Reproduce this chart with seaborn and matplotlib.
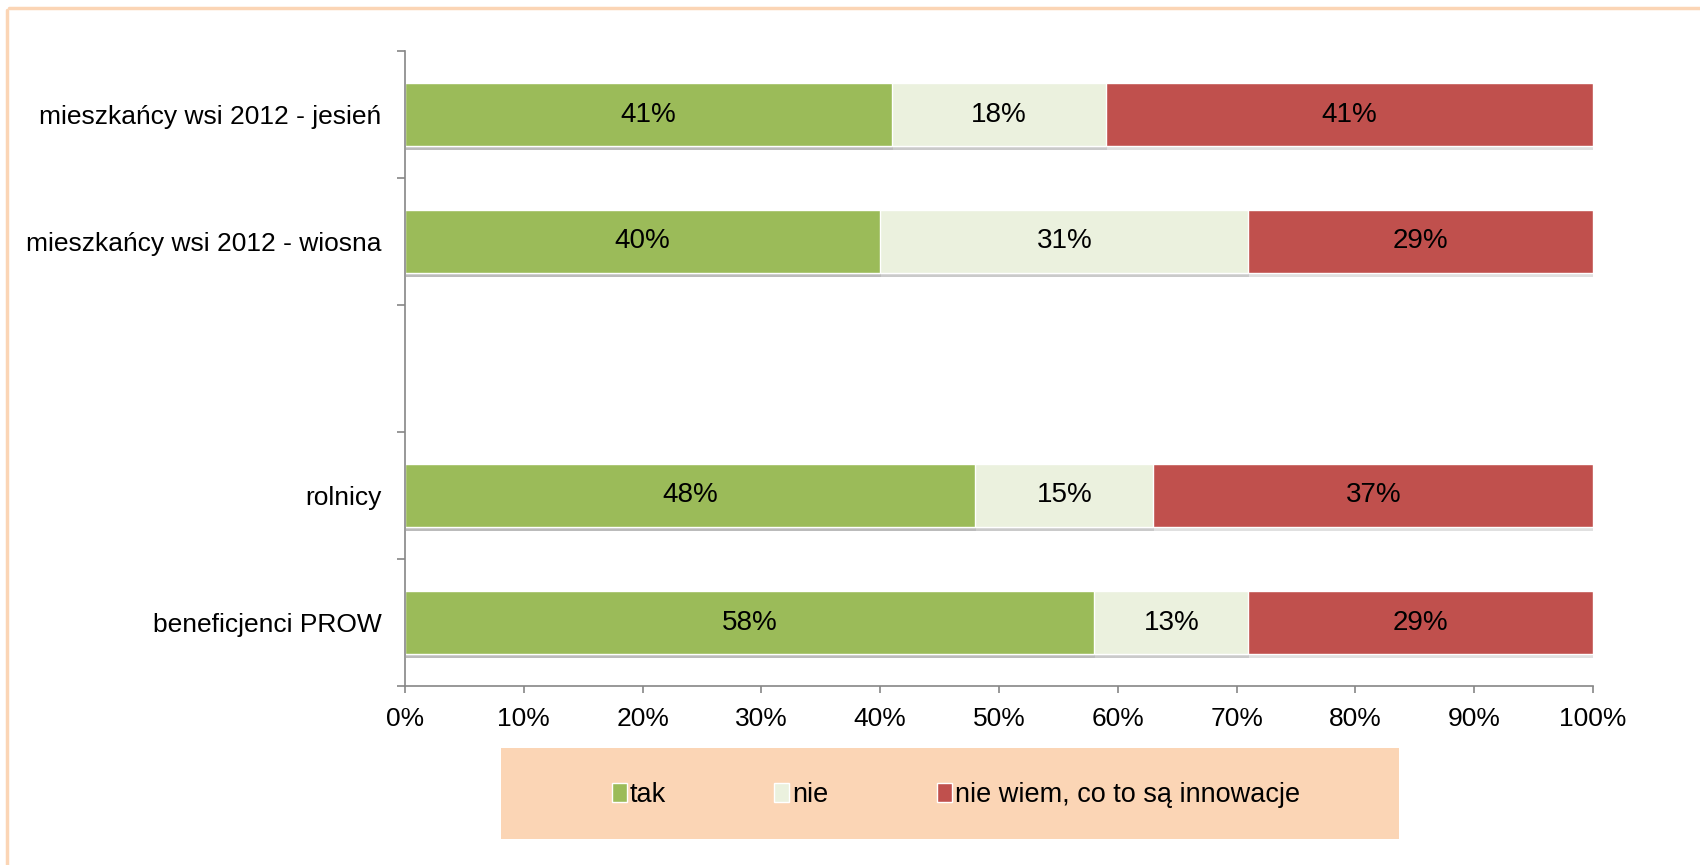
import matplotlib
matplotlib.use("Agg")
import matplotlib.pyplot as plt
import matplotlib.patheffects as pe
from matplotlib.patches import Patch, Rectangle
from matplotlib.lines import Line2D
from matplotlib.ticker import FixedLocator, PercentFormatter
import seaborn as sns
import pandas as pd
import numpy as np

# ---- data ----
categories = ["mieszkańcy wsi 2012 - jesień", "mieszkańcy wsi 2012 - wiosna", "",
              "rolnicy", "beneficjenci PROW"]
data_categories = ["mieszkańcy wsi 2012 - jesień", "mieszkańcy wsi 2012 - wiosna",
                   "rolnicy", "beneficjenci PROW"]
tak = [41, 40, 48, 58]
nie = [18, 31, 15, 13]
nie_wiem = [41, 29, 37, 29]
series_names = ["tak", "nie", "nie wiem, co to są innowacje"]
colors = ["#9BBB59", "#EBF1DE", "#C0504D"]

sns.set_theme(style="white")
plt.rcParams["font.family"] = ["Liberation Sans", "DejaVu Sans"]
plt.rcParams["text.color"] = "black"

fig = plt.figure(figsize=(17, 8.65), dpi=100)
ax = fig.add_axes([405 / 1700, 1 - 686 / 865, (1593 - 405) / 1700, (686 - 51) / 865])

df = pd.DataFrame({"cat": data_categories,
                   "tak": np.array(tak) / 100,
                   "nie": np.array(nie) / 100,
                   "nw": np.array(nie_wiem) / 100})
df["c1"] = df["tak"]
df["c2"] = df["tak"] + df["nie"]
df["c3"] = df["tak"] + df["nie"] + df["nw"]

shadow = [pe.SimplePatchShadow(offset=(0.5, -2.5), shadow_rgbFace="#9a9a9a", alpha=0.3), pe.Normal()]
for col, color in zip(["c3", "c2", "c1"], colors[::-1]):
    sns.barplot(data=df, x=col, y="cat", order=categories, orient="h",
                color=color, saturation=1, width=0.5, ax=ax,
                edgecolor="white", linewidth=1)
for p in ax.patches:
    p.set_path_effects(shadow)

# value labels
for _, row in df.iterrows():
    yi = categories.index(row["cat"])
    starts = [0, row["c1"], row["c2"]]
    vals = [row["tak"], row["nie"], row["nw"]]
    for s, v in zip(starts, vals):
        ax.text(s + v / 2, yi, f"{round(v * 100):.0f}%", ha="center", va="center",
                fontsize=20, color="black")

ax.set_xlim(0, 1)
ax.set_ylim(len(categories) - 0.5, -0.5)
ax.set_xlabel("")
ax.set_ylabel("")
ax.xaxis.set_major_locator(FixedLocator(np.arange(0, 1.01, 0.1)))
ax.xaxis.set_major_formatter(PercentFormatter(1.0, decimals=0))
ax.yaxis.set_minor_locator(FixedLocator(np.arange(-0.5, len(categories), 1.0)))
ax.tick_params(axis="y", which="major", length=0, pad=17, labelsize=19, labelcolor="black")
ax.tick_params(axis="y", which="minor", length=6, width=1.2, color="#868686", direction="out", left=True)
ax.tick_params(axis="x", which="major", length=5, width=1.2, color="#868686", direction="out",
               bottom=True, pad=10, labelsize=19, labelcolor="black")
for s in ["top", "right"]:
    ax.spines[s].set_visible(False)
for s in ["left", "bottom"]:
    ax.spines[s].set_color("#868686")
    ax.spines[s].set_linewidth(1.2)

# legend background box
fig.add_artist(Rectangle((501 / 1700, 1 - 839 / 865), (1399 - 501) / 1700, (839 - 748) / 865,
                         transform=fig.transFigure, facecolor="#FBD5B5", edgecolor="none", zorder=0))
handles = [Patch(facecolor=c, edgecolor="white", linewidth=1) for c in colors]
fig.legend(handles, series_names, loc="center", bbox_to_anchor=(956 / 1700, 1 - 795 / 865),
           ncol=3, frameon=False, fontsize=19.5, handlelength=0.55, handleheight=0.75,
           handletextpad=0.12, columnspacing=4.0, labelcolor="black")

# figure border (top and left visible)
bc = "#FBD5B5"
fig.add_artist(Line2D([7 / 1700, 7 / 1700], [0, 1 - 10 / 865], transform=fig.transFigure,
                      color=bc, linewidth=2.5))
fig.add_artist(Line2D([9 / 1700, 1], [1 - 8 / 865, 1 - 8 / 865], transform=fig.transFigure,
                      color=bc, linewidth=2.5))

fig.savefig("out.png", dpi=100, facecolor="white")
